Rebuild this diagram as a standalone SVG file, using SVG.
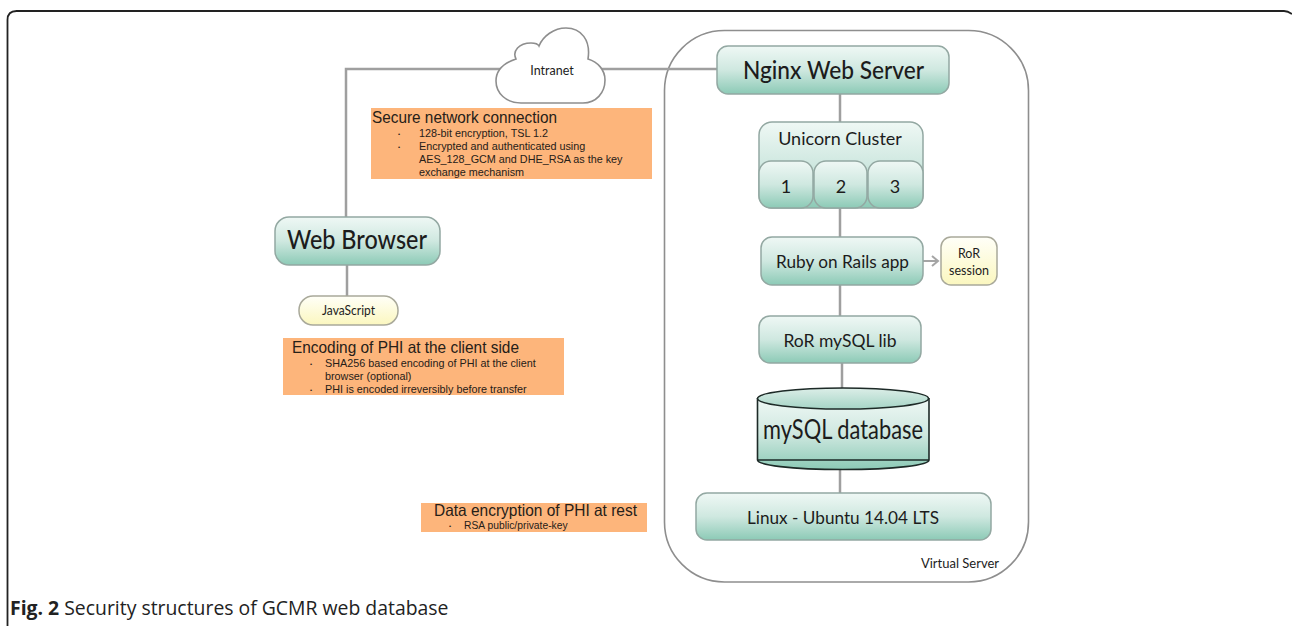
<svg xmlns="http://www.w3.org/2000/svg" width="1292" height="626" viewBox="0 0 1292 626">
<style>
.n{stroke:#93a8a2;stroke-width:1.5;fill:url(#g)}
.y{stroke:#a9a99a;stroke-width:1.5;fill:url(#gy)}
.c{stroke:#9f9f9f;stroke-width:2.5;fill:none}
.o{fill:#fdb57b}
text{font-family:Lato,"Open Sans",sans-serif;fill:#1c1c1c;text-anchor:middle}
.a{font-family:"Liberation Sans",Arial,sans-serif;text-anchor:start;fill:#262018}
.h{font-size:16.500px}
.s{font-size:10.800px}
.b{font-size:6px}
</style>
<defs>
<linearGradient id="g" x1="0" y1="0" x2="0" y2="1"><stop offset="0" stop-color="#eff8f5"/><stop offset=".5" stop-color="#cfe8e0"/><stop offset="1" stop-color="#8ccab6"/></linearGradient>
<linearGradient id="ge" x1="0" y1="0" x2="0" y2="1"><stop offset="0" stop-color="#dceee8"/><stop offset="1" stop-color="#a6d5c6"/></linearGradient>
<linearGradient id="gy" x1="0" y1="0" x2="0" y2="1"><stop offset="0" stop-color="#fffff8"/><stop offset="1" stop-color="#fbf7bf"/></linearGradient>
<marker id="ar" markerWidth="10" markerHeight="12" refX="7" refY="6" orient="auto" markerUnits="userSpaceOnUse"><path d="M1 1L7 6L1 11" fill="none" stroke="#a5a5a5" stroke-width="2"/></marker>
</defs>
<rect width="1292" height="626" fill="#fff"/>
<path id="frame" d="M7.500 626V20Q7.500 11 16.500 11H1284Q1288 11 1292 14" fill="none" stroke="#222" stroke-width="1.800"/>
<rect id="virtual-server" x="664.500" y="30.500" width="364" height="551.500" rx="60" fill="#fff" stroke="#8e8e8e" stroke-width="1.600"/>
<g id="connectors">
<path class="c" d="M346 217V69H500"/>
<path class="c" d="M600 69H717"/>
<path class="c" d="M840 94V122"/>
<path class="c" d="M840 208V237"/>
<path class="c" d="M840 285V316"/>
<path class="c" d="M842 363V390"/>
<path class="c" d="M840 468V493"/>
<path class="c" d="M347 265V296"/>
<path d="M923 261H938" fill="none" stroke="#a5a5a5" stroke-width="2" marker-end="url(#ar)"/>
</g>
<g id="intranet">
<path d="M521 103C506 103 496 93 496 81C496 70 504 63 516 59C512 51 519 43 531 43C535 43 538 44 539 46C543 36 554 28 566 28C581 28 591 40 588 59C598 62 605 70 605 80C605 93 596 103 583 103Z" fill="#fff" stroke="#8e8e8e" stroke-width="1.600"/>
<text x="552" y="75" font-size="12.500">Intranet</text>
</g>
<g id="note-network">
<rect class="o" x="371" y="108" width="281" height="71"/>
<text class="a h" x="372" y="123" textLength="185" lengthAdjust="spacingAndGlyphs">Secure network connection</text>
<text class="a b" x="398" y="135.500">•</text>
<text class="a s" x="419" y="137">128-bit encryption, TSL 1.2</text>
<text class="a b" x="398" y="148.500">•</text>
<text class="a s" x="419" y="150">Encrypted and authenticated using</text>
<text class="a s" x="419" y="163">AES_128_GCM and DHE_RSA as the key</text>
<text class="a s" x="419" y="176">exchange mechanism</text>
</g>
<g id="nginx"><rect class="n" x="717" y="46" width="232" height="48" rx="11"/><text x="833.500" y="79" font-size="25" font-weight="500" textLength="181" lengthAdjust="spacingAndGlyphs">Nginx Web Server</text></g>
<g id="unicorn">
<rect class="n" x="759" y="122" width="164" height="86" rx="13"/>
<text x="840" y="145" font-size="18">Unicorn Cluster</text>
</g>
<g id="unicorn-1"><rect class="n" x="759" y="161" width="54" height="47" rx="12"/><text x="786" y="193" font-size="18">1</text></g>
<g id="unicorn-2"><rect class="n" x="814" y="161" width="53" height="47" rx="12"/><text x="841" y="193" font-size="18">2</text></g>
<g id="unicorn-3"><rect class="n" x="868" y="161" width="55" height="47" rx="12"/><text x="895" y="193" font-size="18">3</text></g>
<g id="rails"><rect class="n" x="761" y="237" width="162" height="48" rx="11"/><text x="842.500" y="268" font-size="17.500" textLength="133" lengthAdjust="spacingAndGlyphs">Ruby on Rails app</text></g>
<g id="ror-session"><rect class="y" x="941" y="237" width="56" height="48" rx="10"/><text x="969" y="258" font-size="12.500">RoR</text><text x="969" y="275" font-size="12.500">session</text></g>
<g id="mysql-lib"><rect class="n" x="759" y="316" width="162" height="47" rx="11"/><text x="840" y="347" font-size="17.500">RoR mySQL lib</text></g>
<g id="database">
<path d="M757.500 398V460C757.500 465 790 469.500 843 469.500C896 469.500 929 465 929 460V398Z" fill="url(#g)"/>
<path d="M757.500 460H929M757.500 398V460C757.500 465 790 469.500 843 469.500C896 469.500 929 465 929 460V398" fill="none" stroke="#1d2a27" stroke-width="1.600"/>
<ellipse cx="843" cy="398.500" rx="85.500" ry="10.500" fill="url(#ge)" stroke="#1d2a27" stroke-width="1.600"/>
<text x="843" y="439" font-size="26" textLength="160" lengthAdjust="spacingAndGlyphs">mySQL database</text>
</g>
<g id="linux"><rect class="n" x="696" y="493" width="295" height="47" rx="11"/><text x="843" y="524" font-size="17.500" textLength="192" lengthAdjust="spacingAndGlyphs">Linux - Ubuntu 14.04 LTS</text></g>
<text id="virtual-label" x="960" y="568" font-size="13">Virtual Server</text>
<g id="browser"><rect class="n" x="275" y="217" width="165" height="48" rx="14"/><text x="357" y="249" font-size="26" font-weight="500" textLength="140" lengthAdjust="spacingAndGlyphs">Web Browser</text></g>
<g id="javascript"><rect class="y" x="299" y="296" width="99" height="29" rx="14"/><text x="348.500" y="315" font-size="13" textLength="53" lengthAdjust="spacingAndGlyphs">JavaScript</text></g>
<g id="note-client">
<rect class="o" x="283" y="338" width="281" height="57"/>
<text class="a h" x="292" y="353" textLength="227" lengthAdjust="spacingAndGlyphs">Encoding of PHI at the client side</text>
<text class="a b" x="310" y="365.500">•</text>
<text class="a s" x="325" y="367">SHA256 based encoding of PHI at the client</text>
<text class="a s" x="325" y="380">browser (optional)</text>
<text class="a b" x="310" y="391.500">•</text>
<text class="a s" x="325" y="393">PHI is encoded irreversibly before transfer</text>
</g>
<g id="note-rest">
<rect class="o" x="421" y="503" width="226" height="29"/>
<text class="a h" x="434" y="516" textLength="203" lengthAdjust="spacingAndGlyphs">Data encryption of PHI at rest</text>
<text class="a b" x="449" y="527.500">•</text>
<text class="a" x="464" y="529" font-size="10.300">RSA public/private-key</text>
</g>
<text id="caption" x="10" y="615" font-size="19.400" style="font-family:'Open Sans',sans-serif;text-anchor:start;fill:#222"><tspan font-weight="700">Fig. 2</tspan> Security structures of GCMR web database</text>
</svg>
